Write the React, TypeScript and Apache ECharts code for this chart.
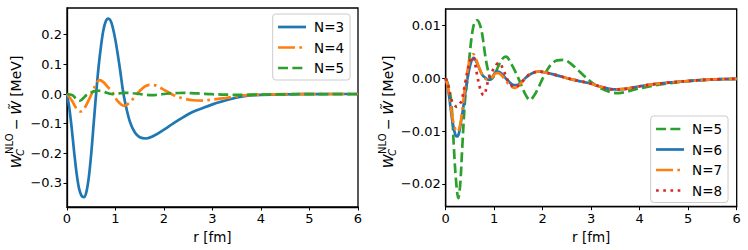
import React, { useEffect, useRef } from "react";
import * as echarts from "echarts";

// ---- data ----
const R_N3 = [0, 0.05, 0.1, 0.15, 0.2, 0.25, 0.3, 0.35, 0.4, 0.45, 0.5, 0.55, 0.6, 0.65, 0.7, 0.75, 0.8, 0.85, 0.9, 0.95, 1.0, 1.05, 1.1, 1.15, 1.2, 1.3, 1.4, 1.5, 1.63, 1.8, 2.0, 2.2, 2.4, 2.6, 2.8, 3.0, 3.2, 3.4, 3.6, 3.8, 4.0, 4.5, 5.0, 5.5, 6.0];
const V_N3 = [0, -0.05, -0.12, -0.2, -0.27, -0.32, -0.343, -0.348, -0.33, -0.28, -0.2, -0.1, 0.0, 0.09, 0.16, 0.215, 0.245, 0.254, 0.247, 0.22, 0.18, 0.13, 0.075, 0.015, -0.03, -0.095, -0.13, -0.146, -0.15, -0.14, -0.12, -0.098, -0.078, -0.06, -0.047, -0.035, -0.025, -0.016, -0.009, -0.005, -0.003, -0.001, -0.0003, 0, 0];

const R_N4 = [0, 0.1, 0.2, 0.28, 0.35, 0.45, 0.54, 0.6, 0.67, 0.75, 0.85, 0.95, 1.05, 1.18, 1.3, 1.4, 1.5, 1.6, 1.7, 1.8, 1.9, 2.0, 2.1, 2.2, 2.4, 2.6, 2.8, 3.0, 3.2, 3.4, 3.6, 3.8, 4.0, 4.5, 5.0, 6.0];
const V_N4 = [0, -0.022, -0.05, -0.059, -0.05, -0.02, 0.012, 0.035, 0.047, 0.04, 0.022, 0.002, -0.025, -0.04, -0.028, -0.008, 0.01, 0.025, 0.031, 0.03, 0.023, 0.014, 0.005, -0.004, -0.015, -0.021, -0.022, -0.019, -0.015, -0.01, -0.006, -0.003, -0.002, -0.0005, 0, 0];

const R_N5 = [0, 0.06, 0.12, 0.17, 0.21, 0.26, 0.3, 0.34, 0.4, 0.45, 0.5, 0.55, 0.6, 0.65, 0.7, 0.75, 0.82, 0.88, 0.93, 1.0, 1.08, 1.16, 1.24, 1.36, 1.5, 1.63, 1.74, 1.82, 1.91, 2.0, 2.1, 2.2, 2.3, 2.42, 2.55, 2.7, 2.85, 3.0, 3.2, 3.4, 3.56, 3.7, 3.9, 4.1, 4.4, 4.8, 5.2, 5.6, 6.0];
const V_N5 = [0, -0.0015, -0.005, -0.0133, -0.019, -0.0227, -0.02, -0.0133, -0.004, 0.0, 0.005, 0.0088, 0.0107, 0.011, 0.0103, 0.0085, 0.004, 0.0012, -0.0002, 0.0005, 0.0022, 0.0036, 0.0041, 0.0026, 0.0, -0.0028, -0.0041, -0.0033, -0.0018, 0.0, 0.0017, 0.0029, 0.0034, 0.0035, 0.003, 0.0018, 0.0005, -0.0007, -0.0019, -0.0026, -0.0028, -0.0026, -0.0021, -0.0017, -0.0012, -0.0007, -0.0004, -0.0002, -0.0001];

const R_N6 = [0, 0.05, 0.1, 0.15, 0.2, 0.23, 0.27, 0.32, 0.37, 0.45, 0.52, 0.58, 0.64, 0.7, 0.76, 0.82, 0.89, 0.96, 1.02, 1.08, 1.15, 1.22, 1.3, 1.38, 1.46, 1.55, 1.65, 1.75, 1.85, 1.92, 2.0, 2.2, 2.4, 2.6, 2.8, 3.0, 3.2, 3.46, 3.7, 4.0, 4.3, 4.6, 5.0, 5.5, 6.0];
const V_N6 = [0, -0.002, -0.0055, -0.0088, -0.0107, -0.011, -0.0105, -0.008, -0.005, 0.0, 0.003, 0.0039, 0.003, 0.0017, 0.0006, 0.0001, -0.0003, 0.0002, 0.0011, 0.0013, 0.0009, 0.0002, -0.0006, -0.0012, -0.0013, -0.0008, 0.0001, 0.0008, 0.0012, 0.0013, 0.0012, 0.0008, 0.0003, -0.0002, -0.0006, -0.001, -0.0016, -0.0021, -0.002, -0.0015, -0.0011, -0.0008, -0.0005, -0.0002, -0.0001];

const R_N7 = [0, 0.05, 0.1, 0.15, 0.2, 0.24, 0.28, 0.33, 0.38, 0.45, 0.52, 0.57, 0.63, 0.7, 0.76, 0.82, 0.89, 0.96, 1.02, 1.08, 1.15, 1.22, 1.3, 1.38, 1.43, 1.52, 1.62, 1.72, 1.85, 1.92, 2.0, 2.2, 2.4, 2.6, 2.8, 3.0, 3.2, 3.46, 3.7, 4.0, 4.3, 4.6, 5.0, 5.5, 6.0];
const V_N7 = [0, -0.0018, -0.005, -0.008, -0.0097, -0.0101, -0.0095, -0.007, -0.003, 0.0015, 0.0042, 0.0046, 0.0035, 0.0018, 0.0005, -0.0001, -0.0002, 0.0002, 0.0009, 0.001, 0.0006, -0.0002, -0.0011, -0.0017, -0.0018, -0.0012, -0.0002, 0.0007, 0.0012, 0.0013, 0.0012, 0.0008, 0.0003, -0.0002, -0.0006, -0.001, -0.0016, -0.0021, -0.002, -0.0015, -0.0011, -0.0008, -0.0005, -0.0002, -0.0001];

const R_N8 = [0, 0.05, 0.12, 0.18, 0.23, 0.28, 0.33, 0.4, 0.47, 0.52, 0.55, 0.6, 0.64, 0.71, 0.78, 0.82, 0.88, 0.95, 1.02, 1.08, 1.13, 1.19, 1.29, 1.36, 1.43, 1.52, 1.62, 1.72, 1.85, 1.92, 2.0, 2.2, 2.4, 2.6, 2.8, 3.0, 3.2, 3.46, 3.7, 4.0, 4.3, 4.6, 5.0, 5.5, 6.0];
const V_N8 = [0, -0.0013, -0.0041, -0.005, -0.0054, -0.005, -0.0041, -0.001, 0.0022, 0.0038, 0.0041, 0.003, 0.001, -0.0019, -0.0032, -0.0025, -0.0003, 0.0012, 0.0022, 0.0029, 0.0027, 0.0016, -0.0006, -0.0014, -0.0017, -0.0012, -0.0002, 0.0007, 0.0012, 0.0013, 0.0012, 0.0008, 0.0003, -0.0002, -0.0006, -0.001, -0.0016, -0.0021, -0.002, -0.0015, -0.0011, -0.0008, -0.0005, -0.0002, -0.0001];

const LEFT_NAMES = ["N=3", "N=4", "N=5"];
const RIGHT_NAMES = ["N=5", "N=6", "N=7", "N=8"];
const Y_TICKS_LEFT = [-0.3, -0.2, -0.1, 0.0, 0.1, 0.2];
const Y_TICKS_RIGHT = [-0.02, -0.01, 0.0, 0.01];
const X_LABEL = "r [fm]";

const BLUE = "#1f77b4";
const ORANGE = "#ff7f0e";
const GREEN = "#2ca02c";
const RED = "#d62728";
const FONT = "DejaVu Sans";
const LW = 2.7;

const pairs = (r: number[], v: number[]) => r.map((x, i) => [x, v[i]]);
const fmt = (d: number) => (v: number) => {
  const s = Math.abs(v) < 1e-12 ? (0).toFixed(d) : v.toFixed(d);
  return s.replace("-", "\u2212");
};

function measure(text: string, font: string) {
  const c = document.createElement("canvas").getContext("2d")!;
  c.font = font;
  return c.measureText(text).width;
}

function yLabel(cx: number, cy: number) {
  const big = 14;
  const small = 10;
  const fIt = `italic ${big}px "${FONT}"`;
  const fUp = `${big}px "${FONT}"`;
  const fSubIt = `italic ${small}px "${FONT}"`;
  const fSub = `${small}px "${FONT}"`;
  const items: any[] = [];
  let x = 0;
  const wW = measure("W", fIt);
  items.push({ t: "W", f: fIt, x: 0, y: 0 });
  x = wW;
  const wC = measure("C", fSubIt);
  const wN = measure("NLO", fSub);
  items.push({ t: "C", f: fSubIt, x: x - 1.5, y: 4.5 });
  items.push({ t: "NLO", f: fSub, x: x + 0.5, y: -6 });
  x = Math.max(x - 1.5 + wC, x + 0.5 + wN) + 3.5;
  items.push({ t: "\u2212", f: fUp, x, y: 0 });
  x += measure("\u2212", fUp) + 3.5;
  items.push({ t: "W\u0303", f: fIt, x, y: 0 });
  x += wW + 4;
  items.push({ t: "[MeV]", f: fUp, x, y: 0 });
  x += measure("[MeV]", fUp);
  const total = x;
  return {
    type: "group",
    x: cx,
    y: cy,
    rotation: Math.PI / 2,
    children: items.map((it) => ({
      type: "text",
      x: it.x - total / 2,
      y: it.y,
      style: {
        text: it.t,
        font: it.f,
        fill: "#000",
        textAlign: "left",
        textVerticalAlign: "middle",
        align: "left",
        verticalAlign: "middle",
      },
    })),
  };
}

export default function App() {
  const ref = useRef<HTMLDivElement>(null);
  useEffect(() => {
    if (!ref.current) return;
    const chart = echarts.init(ref.current, undefined, { renderer: "svg" });
    const xAxisBase = (gridIndex: number) => ({
      type: "value",
      gridIndex,
      min: 0,
      max: 6,
      interval: 1,
      name: X_LABEL,
      nameLocation: "middle",
      nameGap: 21,
      nameTextStyle: { color: "#000", fontSize: 13.5, fontFamily: FONT },
      axisLine: { show: true, onZero: false, lineStyle: { color: "#000", width: 1.3 } },
      axisTick: { show: true, length: 3.5, lineStyle: { color: "#000", width: 1 } },
      axisLabel: { color: "#000", fontSize: 13, fontFamily: FONT, margin: 5 },
      splitLine: { show: false },
    });
    const yAxisBase = (gridIndex: number, min: number, max: number, ticks: number[], d: number) => ({
      type: "value",
      gridIndex,
      min,
      max,
      axisLine: { show: true, onZero: false, lineStyle: { color: "#000", width: 1.3 } },
      axisTick: { show: true, length: 3.5, customValues: ticks, lineStyle: { color: "#000", width: 1 } },
      axisLabel: { color: "#000", fontSize: 13, fontFamily: FONT, margin: 5, customValues: ticks, formatter: fmt(d) },
      splitLine: { show: false },
    });
    const line = (name: string, xi: number, data: number[][], color: string, type: any, z: number) => ({
      type: "line",
      name,
      xAxisIndex: xi,
      yAxisIndex: xi,
      data,
      smooth: 0.35,
      symbol: "none",
      showSymbol: false,
      z,
      lineStyle: { color, width: LW, type, cap: "butt" },
      itemStyle: { color },
    });
    const legendBase = {
      orient: "vertical",
      itemWidth: 28,
      itemHeight: 14,
      itemGap: 6.5,
      padding: [6, 6, 5, 4],
      borderColor: "#cccccc",
      borderWidth: 1,
      borderRadius: 3,
      backgroundColor: "rgba(255,255,255,0.8)",
      itemStyle: { opacity: 0 },
      lineStyle: { width: LW },
      textStyle: { color: "#000", fontSize: 13.5, fontFamily: FONT, padding: [0, 0, 0, 3] },
    };
    const DASH = [10, 4.3];
    const DASHDOT = [17, 4.3, 2.7, 4.3];
    const DOT = [2.7, 4.5];
    chart.setOption({
      animation: false,
      grid: [
        { left: 67, right: 390, top: 8, bottom: 43, show: true, borderColor: "#000", borderWidth: 1.3, containLabel: false },
        { left: 445.7, right: 11.3, top: 9, bottom: 43.3, show: true, borderColor: "#000", borderWidth: 1.3, containLabel: false },
      ],
      xAxis: [xAxisBase(0), xAxisBase(1)],
      yAxis: [
        yAxisBase(0, -0.381, 0.29, Y_TICKS_LEFT, 1),
        yAxisBase(1, -0.0243, 0.01313, Y_TICKS_RIGHT, 2),
      ],
      legend: [
        { ...legendBase, data: LEFT_NAMES, left: 272.7, top: 14 },
        { ...legendBase, data: RIGHT_NAMES, left: 650.7, top: 116 },
      ],
      series: [
        line(LEFT_NAMES[0], 0, pairs(R_N3, V_N3), BLUE, "solid", 3),
        line(LEFT_NAMES[1], 0, pairs(R_N4, V_N4), ORANGE, DASHDOT, 4),
        line(LEFT_NAMES[2], 0, pairs(R_N5, V_N5), GREEN, DASH, 5),
        line(RIGHT_NAMES[0], 1, pairs(R_N5, V_N5), GREEN, DASH, 3),
        line(RIGHT_NAMES[1], 1, pairs(R_N6, V_N6), BLUE, "solid", 4),
        line(RIGHT_NAMES[2], 1, pairs(R_N7, V_N7), ORANGE, DASHDOT, 5),
        line(RIGHT_NAMES[3], 1, pairs(R_N8, V_N8), RED, DOT, 6),
      ],
      graphic: [yLabel(15.5, 112), yLabel(388, 112)],
    });
    return () => chart.dispose();
  }, []);
  return <div ref={ref} style={{ width: 748, height: 250, position: "absolute", left: 0, top: 0 }} />;
}
